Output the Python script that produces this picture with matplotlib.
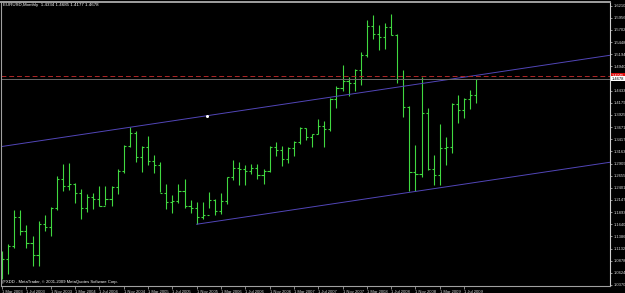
import matplotlib
matplotlib.use("Agg")
import matplotlib.pyplot as plt
import numpy as np

# EURUSD monthly bars, Mar 2003 .. Sep 2009
months = ["Mar 2003", "Apr 2003", "May 2003", "Jun 2003", "Jul 2003", "Aug 2003", "Sep 2003", "Oct 2003",
          "Nov 2003", "Dec 2003", "Jan 2004", "Feb 2004", "Mar 2004", "Apr 2004", "May 2004", "Jun 2004",
          "Jul 2004", "Aug 2004", "Sep 2004", "Oct 2004", "Nov 2004", "Dec 2004", "Jan 2005", "Feb 2005",
          "Mar 2005", "Apr 2005", "May 2005", "Jun 2005", "Jul 2005", "Aug 2005", "Sep 2005", "Oct 2005",
          "Nov 2005", "Dec 2005", "Jan 2006", "Feb 2006", "Mar 2006", "Apr 2006", "May 2006", "Jun 2006",
          "Jul 2006", "Aug 2006", "Sep 2006", "Oct 2006", "Nov 2006", "Dec 2006", "Jan 2007", "Feb 2007",
          "Mar 2007", "Apr 2007", "May 2007", "Jun 2007", "Jul 2007", "Aug 2007", "Sep 2007", "Oct 2007",
          "Nov 2007", "Dec 2007", "Jan 2008", "Feb 2008", "Mar 2008", "Apr 2008", "May 2008", "Jun 2008",
          "Jul 2008", "Aug 2008", "Sep 2008", "Oct 2008", "Nov 2008", "Dec 2008", "Jan 2009", "Feb 2009",
          "Mar 2009", "Apr 2009", "May 2009", "Jun 2009", "Jul 2009", "Aug 2009", "Sep 2009"]

opens = [1.0775, 1.0905, 1.1180, 1.1790, 1.1500, 1.1250, 1.0990, 1.1650, 1.1585, 1.1980,
         1.2590, 1.2450, 1.2475, 1.2300, 1.1975, 1.2200, 1.2165, 1.2020, 1.2170, 1.2420,
         1.2745, 1.3270, 1.3555, 1.3040, 1.3255, 1.2965, 1.2870, 1.2300, 1.2100, 1.2125,
         1.2335, 1.2025, 1.1985, 1.1790, 1.1840, 1.2155, 1.1920, 1.2120, 1.2620, 1.2810,
         1.2795, 1.2760, 1.2815, 1.2680, 1.2760, 1.3245, 1.3195, 1.3000, 1.3230, 1.3360,
         1.3650, 1.3455, 1.3525, 1.3695, 1.3640, 1.4265, 1.4485, 1.4635, 1.4590, 1.4860,
         1.5180, 1.5790, 1.5620, 1.5555, 1.5765, 1.5605, 1.4670, 1.4085, 1.2730, 1.2690,
         1.3970, 1.2800, 1.2670, 1.3240, 1.3245, 1.4150, 1.4030, 1.4250, 1.4334]
highs = [1.1080, 1.1230, 1.1930, 1.1935, 1.1620, 1.1400, 1.1700, 1.1830, 1.2010, 1.2650,
         1.2900, 1.2930, 1.2500, 1.2385, 1.2275, 1.2290, 1.2430, 1.2430, 1.2430, 1.2805,
         1.3300, 1.3667, 1.3580, 1.3270, 1.3480, 1.3095, 1.2950, 1.2480, 1.2255, 1.2475,
         1.2585, 1.2155, 1.2095, 1.2095, 1.2320, 1.2170, 1.2285, 1.2625, 1.2980, 1.2950,
         1.2880, 1.2910, 1.2905, 1.2800, 1.3285, 1.3365, 1.3270, 1.3260, 1.3390, 1.3680,
         1.3660, 1.3530, 1.3850, 1.3800, 1.4280, 1.4525, 1.4965, 1.4720, 1.4890, 1.5240,
         1.5905, 1.6020, 1.5815, 1.5845, 1.6038, 1.5625, 1.4865, 1.4115, 1.3300, 1.4720,
         1.4070, 1.3080, 1.3740, 1.3470, 1.4165, 1.4340, 1.4285, 1.4445, 1.4685]
lows = [1.0500, 1.0610, 1.1150, 1.1410, 1.1140, 1.0760, 1.0770, 1.1505, 1.1400, 1.1930,
        1.2335, 1.2355, 1.2080, 1.1760, 1.1900, 1.1950, 1.2020, 1.2040, 1.2020, 1.2275,
        1.2710, 1.3250, 1.2935, 1.2730, 1.2870, 1.2720, 1.2305, 1.1950, 1.1870, 1.2080,
        1.1985, 1.1870, 1.1640, 1.1755, 1.1985, 1.1825, 1.1860, 1.2065, 1.2570, 1.2460,
        1.2460, 1.2690, 1.2595, 1.2480, 1.2730, 1.3070, 1.2865, 1.2925, 1.3065, 1.3325,
        1.3400, 1.3260, 1.3520, 1.3260, 1.3590, 1.4065, 1.4430, 1.4330, 1.4430, 1.4555,
        1.5140, 1.5505, 1.5285, 1.5300, 1.5595, 1.4600, 1.3880, 1.2330, 1.2330, 1.2620,
        1.2775, 1.2455, 1.2455, 1.2885, 1.3140, 1.3750, 1.3860, 1.4045, 1.4177]
closes = [1.0905, 1.1180, 1.1790, 1.1500, 1.1250, 1.0990, 1.1650, 1.1585, 1.1980, 1.2590,
          1.2450, 1.2475, 1.2300, 1.1975, 1.2200, 1.2165, 1.2020, 1.2170, 1.2420, 1.2745,
          1.3270, 1.3555, 1.3040, 1.3255, 1.2965, 1.2870, 1.2300, 1.2100, 1.2125, 1.2335,
          1.2025, 1.1985, 1.1790, 1.1840, 1.2155, 1.1920, 1.2120, 1.2620, 1.2810, 1.2795,
          1.2760, 1.2815, 1.2680, 1.2760, 1.3245, 1.3195, 1.3000, 1.3230, 1.3360, 1.3650,
          1.3455, 1.3525, 1.3695, 1.3640, 1.4265, 1.4485, 1.4635, 1.4590, 1.4860, 1.5180,
          1.5790, 1.5620, 1.5555, 1.5765, 1.5605, 1.4670, 1.4085, 1.2730, 1.2690, 1.3970,
          1.2800, 1.2670, 1.3240, 1.3245, 1.4150, 1.4030, 1.4250, 1.4334, 1.4678]

date_labels = ["1 Mar 2003", "1 Jul 2003", "1 Nov 2003", "1 Mar 2004", "1 Jul 2004", "1 Nov 2004",
               "1 Mar 2005", "1 Jul 2005", "1 Nov 2005", "1 Mar 2006", "1 Jul 2006", "1 Nov 2006",
               "1 Mar 2007", "1 Jul 2007", "1 Nov 2007", "1 Mar 2008", "1 Jul 2008", "1 Nov 2008",
               "1 Mar 2009", "1 Jul 2009"]
price_ticks = [1.0370, 1.0624, 1.0878, 1.1132, 1.1386, 1.1640, 1.1893, 1.2147, 1.2401, 1.2655,
               1.2909, 1.3163, 1.3417, 1.3671, 1.3925, 1.4179, 1.4433, 1.4940, 1.5194, 1.5448,
               1.5702, 1.5956, 1.6210]

# channel: upper line through Dec 2004 high, lower line from Nov 2005 low
upper_anchor = ("Dec 2004", 1.3667)
lower_anchor = ("Nov 2005", 1.1640)
channel_slope = 0.001906  # price per month
marker_month = 33.7       # little white point on the upper line
hline_price = 1.4745
bid_price = 1.4678
header = "EURUSD,Monthly  1.4334 1.4685 1.4177 1.4678"
footer = "(FXDD - MetaTrader, \u00a9 2001-2009 MetaQuotes Software Corp."

bar_color = "#40d840"
line_color = "#5246b8"
axis_color = "#a0a0a0"
font = "Liberation Sans"

x = np.arange(len(months))
fig = plt.figure(figsize=(6.25, 2.93), dpi=100, facecolor="black")
ax = fig.add_axes([0.001, 0.0239, 0.975, 0.969])
ax.set_facecolor("black")

ax.vlines(x, lows, highs, color=bar_color, linewidth=0.8)
ax.hlines(opens, x - 0.35, x, color=bar_color, linewidth=0.8)
ax.hlines(closes, x, x + 0.35, color=bar_color, linewidth=0.8)

xmin, xmax = -0.25, 100
ax.set_xlim(xmin, xmax)
ax.set_ylim(1.0349, 1.6285)

# channel lines
i_up = months.index(upper_anchor[0])
xs_up = np.array([xmin, xmax])
ax.plot(xs_up, upper_anchor[1] + channel_slope * (xs_up - i_up), color=line_color, linewidth=0.7)
i_lo = months.index(lower_anchor[0])
xs_lo = np.array([i_lo, xmax])
ax.plot(xs_lo, lower_anchor[1] + channel_slope * (xs_lo - i_lo), color=line_color, linewidth=0.7)
ax.plot([marker_month], [upper_anchor[1] + channel_slope * (marker_month - i_up)], "o",
        color="white", markersize=1.2)

# horizontal line and bid line
ax.axhline(hline_price, color="#b02828", linewidth=0.7, dashes=(5, 3))
ax.axhline(bid_price, color="#6a6a6a", linewidth=0.7)

ax.text(0.004, 0.995, header, transform=ax.transAxes, color="white", fontsize=3.2,
        family=font, va="top", ha="left")
ax.text(0.002, 0.008, footer, transform=ax.transAxes, color="white", fontsize=3.0,
        family=font, va="bottom", ha="left")

# axes styling
ax.yaxis.tick_right()
ax.set_yticks(price_ticks)
ax.set_yticklabels([f"{p:.4f}" for p in price_ticks])
ax.set_xticks(np.arange(0, len(months), 4))
ax.set_xticklabels(date_labels, ha="left")
ax.tick_params(axis="y", colors="#d0d0d0", labelsize=3.0, length=1.5, width=0.5, pad=1.0)
ax.tick_params(axis="x", colors="#c0c0c0", labelsize=3.0, length=2.5, width=0.5, pad=0.3)
for lab in ax.get_xticklabels() + ax.get_yticklabels():
    lab.set_family(font)
    lab.set_color("#d8d8d8")
for s in ["left", "top", "bottom"]:
    ax.spines[s].set_color(axis_color)
    ax.spines[s].set_linewidth(0.8)
ax.spines["top"].set_linewidth(1.4)
ax.spines["right"].set_color("#d0d0d0")
ax.spines["right"].set_linewidth(0.8)

# price labels on the scale
trans = ax.get_yaxis_transform()
ax.text(1.003, hline_price, f"{hline_price:.4f}", transform=trans, fontsize=3.0, family=font,
        color="white", va="center", ha="left",
        bbox=dict(boxstyle="square,pad=0.12", facecolor="#e01010", edgecolor="none"))
ax.text(1.003, bid_price, f"{bid_price:.4f}", transform=trans, fontsize=3.0, family=font,
        color="black", va="center", ha="left",
        bbox=dict(boxstyle="square,pad=0.12", facecolor="white", edgecolor="none"))

fig.savefig("out.png", dpi=100, facecolor="black")
